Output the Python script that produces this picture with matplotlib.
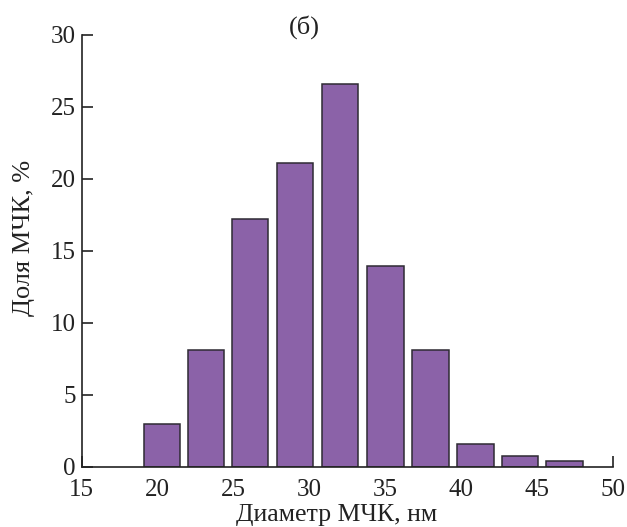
import matplotlib
matplotlib.use("Agg")
import matplotlib.pyplot as plt

# diameter bin centres (nm) and share of particles (%)
diameters = [20.3, 23.2, 26.1, 29.05, 32.0, 35.0, 37.97, 40.95, 43.87, 46.8]
shares = [2.95, 8.1, 17.2, 21.1, 26.6, 13.95, 8.1, 1.6, 0.72, 0.42]

x_ticks = [15, 20, 25, 30, 35, 40, 45, 50]
y_ticks = [0, 5, 10, 15, 20, 25, 30]

plt.rcParams["font.family"] = ["Liberation Serif", "DejaVu Serif"]

fig = plt.figure(figsize=(6.27, 5.27), dpi=100)
ax = fig.add_axes([0.130, 0.1144, 0.848, 0.8192])

ax.bar(diameters, shares, width=2.4, color="#8b62a8",
       edgecolor="#2e2a33", linewidth=1.1, zorder=2)

ax.set_xlim(15, 50)
ax.set_ylim(0, 30)
ax.set_xticks(x_ticks)
ax.set_yticks(y_ticks)
ax.tick_params(direction="in", length=8, width=1.2, labelsize=18, pad=4, colors="#222")
ax.tick_params(axis="x", pad=9)

for side in ("top", "right"):
    ax.spines[side].set_visible(False)
for side in ("left", "bottom"):
    ax.spines[side].set_linewidth(1.2)
    ax.spines[side].set_color("#222")

ax.set_xlabel("Диаметр МЧК, нм", fontsize=18.5, color="#222")
ax.set_ylabel("Доля МЧК, %", fontsize=19, color="#222")
ax.xaxis.set_label_coords(0.48, -0.087)
ax.yaxis.set_label_coords(-0.087, 0.53)
ax.text(0.42, 1.018, "(б)", transform=ax.transAxes, ha="center", va="center",
        fontsize=19, color="#222")

fig.savefig("out.png", dpi=100)
